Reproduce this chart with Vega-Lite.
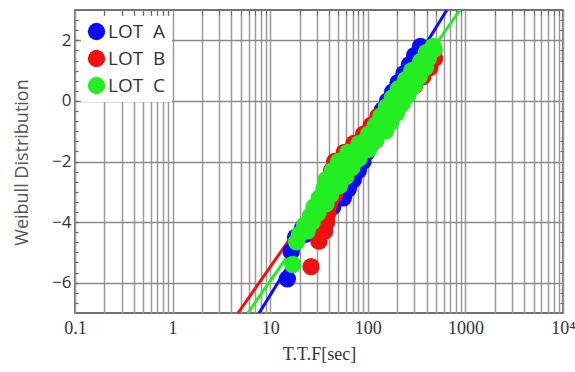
{
  "$schema": "https://vega.github.io/schema/vega-lite/v6.json",
  "width": 488,
  "height": 303,
  "autosize": {"type": "none"},
  "padding": {"left": 75, "top": 10, "right": 12, "bottom": 59},
  "background": "white",
  "config": {
    "view": {"stroke": "#444", "strokeWidth": 1.5},
    "axis": {"domain": false}
  },
  "datasets": {
    "fit": [
      {"lot": "LOT A", "t": 7.7, "y": -7},
      {"lot": "LOT A", "t": 646, "y": 3},
      {"lot": "LOT B", "t": 4.68, "y": -7},
      {"lot": "LOT B", "t": 330, "y": 1.5},
      {"lot": "LOT C", "t": 5.9, "y": -7},
      {"lot": "LOT C", "t": 881, "y": 3}
    ],
    "pts": [
      {"lot":"LOT A","t":15.0,"y":-5.87},{"lot":"LOT A","t":16.4,"y":-4.97},
      {"lot":"LOT A","t":18.2,"y":-4.5},{"lot":"LOT A","t":23.1,"y":-4.4},{"lot":"LOT A","t":22.3,"y":-4.3},{"lot":"LOT A","t":21.5,"y":-4.2},
      {"lot":"LOT A","t":27.3,"y":-4.1},{"lot":"LOT A","t":26.3,"y":-4.0},{"lot":"LOT A","t":26.1,"y":-3.9},{"lot":"LOT A","t":34.0,"y":-3.8},
      {"lot":"LOT A","t":33.7,"y":-3.7},{"lot":"LOT A","t":33.4,"y":-3.6},{"lot":"LOT A","t":43.7,"y":-3.5},{"lot":"LOT A","t":43.0,"y":-3.4},
      {"lot":"LOT A","t":41.4,"y":-3.3},{"lot":"LOT A","t":56.2,"y":-3.2},{"lot":"LOT A","t":52.1,"y":-3.1},{"lot":"LOT A","t":48.3,"y":-3.0},
      {"lot":"LOT A","t":63.2,"y":-2.9},{"lot":"LOT A","t":58.6,"y":-2.8},{"lot":"LOT A","t":54.3,"y":-2.7},{"lot":"LOT A","t":71.1,"y":-2.6},
      {"lot":"LOT A","t":65.9,"y":-2.5},{"lot":"LOT A","t":61.1,"y":-2.4},{"lot":"LOT A","t":80.0,"y":-2.3},{"lot":"LOT A","t":74.1,"y":-2.2},
      {"lot":"LOT A","t":68.5,"y":-2.1},{"lot":"LOT A","t":89.3,"y":-2.0},{"lot":"LOT A","t":82.6,"y":-1.9},{"lot":"LOT A","t":76.4,"y":-1.8},
      {"lot":"LOT A","t":97.5,"y":-1.7},{"lot":"LOT A","t":92.0,"y":-1.6},{"lot":"LOT A","t":87.1,"y":-1.5},{"lot":"LOT A","t":109.1,"y":-1.4},
      {"lot":"LOT A","t":103.8,"y":-1.3},{"lot":"LOT A","t":98.6,"y":-1.2},{"lot":"LOT A","t":123.6,"y":-1.1},{"lot":"LOT A","t":117.5,"y":-1.0},
      {"lot":"LOT A","t":111.9,"y":-0.9},{"lot":"LOT A","t":140.3,"y":-0.8},{"lot":"LOT A","t":133.7,"y":-0.7},{"lot":"LOT A","t":127.1,"y":-0.6},
      {"lot":"LOT A","t":159.6,"y":-0.5},{"lot":"LOT A","t":151.7,"y":-0.4},{"lot":"LOT A","t":141.3,"y":-0.3},{"lot":"LOT A","t":177.0,"y":-0.2},
      {"lot":"LOT A","t":167.9,"y":-0.1},{"lot":"LOT A","t":159.6,"y":0.0},{"lot":"LOT A","t":199.5,"y":0.1},{"lot":"LOT A","t":189.7,"y":0.2},
      {"lot":"LOT A","t":179.9,"y":0.3},{"lot":"LOT A","t":225.4,"y":0.4},{"lot":"LOT A","t":213.8,"y":0.5},{"lot":"LOT A","t":204.2,"y":0.6},
      {"lot":"LOT A","t":257.0,"y":0.7},{"lot":"LOT A","t":245.5,"y":0.8},{"lot":"LOT A","t":234.4,"y":0.9},{"lot":"LOT A","t":295.1,"y":1.0},
      {"lot":"LOT A","t":280.5,"y":1.1},{"lot":"LOT A","t":266.7,"y":1.2},{"lot":"LOT A","t":334.2,"y":1.3},{"lot":"LOT A","t":317.7,"y":1.4},
      {"lot":"LOT A","t":302.0,"y":1.5},{"lot":"LOT A","t":380.2,"y":1.6},{"lot":"LOT A","t":363.1,"y":1.7},{"lot":"LOT A","t":346.7,"y":1.8},

      {"lot":"LOT B","t":26.2,"y":-5.47},{"lot":"LOT B","t":31.6,"y":-4.63},
      {"lot":"LOT B","t":30.9,"y":-4.4},{"lot":"LOT B","t":36.1,"y":-4.3},{"lot":"LOT B","t":34.3,"y":-4.2},{"lot":"LOT B","t":32.6,"y":-4.1},
      {"lot":"LOT B","t":38.0,"y":-4.0},{"lot":"LOT B","t":35.8,"y":-3.9},{"lot":"LOT B","t":33.7,"y":-3.8},{"lot":"LOT B","t":39.1,"y":-3.7},
      {"lot":"LOT B","t":36.8,"y":-3.6},{"lot":"LOT B","t":34.7,"y":-3.5},{"lot":"LOT B","t":40.6,"y":-3.4},{"lot":"LOT B","t":38.5,"y":-3.3},
      {"lot":"LOT B","t":34.2,"y":-3.2},{"lot":"LOT B","t":45.9,"y":-3.1},{"lot":"LOT B","t":40.7,"y":-3.0},{"lot":"LOT B","t":36.4,"y":-2.9},
      {"lot":"LOT B","t":49.2,"y":-2.8},{"lot":"LOT B","t":44.0,"y":-2.7},{"lot":"LOT B","t":39.3,"y":-2.6},{"lot":"LOT B","t":53.1,"y":-2.5},
      {"lot":"LOT B","t":47.4,"y":-2.4},{"lot":"LOT B","t":42.4,"y":-2.3},{"lot":"LOT B","t":57.3,"y":-2.2},{"lot":"LOT B","t":51.2,"y":-2.1},
      {"lot":"LOT B","t":45.7,"y":-2.0},{"lot":"LOT B","t":65.0,"y":-1.9},{"lot":"LOT B","t":61.1,"y":-1.8},{"lot":"LOT B","t":57.4,"y":-1.7},
      {"lot":"LOT B","t":81.7,"y":-1.6},{"lot":"LOT B","t":76.7,"y":-1.5},{"lot":"LOT B","t":72.1,"y":-1.4},{"lot":"LOT B","t":102.6,"y":-1.3},
      {"lot":"LOT B","t":96.4,"y":-1.2},{"lot":"LOT B","t":90.6,"y":-1.1},{"lot":"LOT B","t":128.8,"y":-1.0},{"lot":"LOT B","t":118.3,"y":-0.9},
      {"lot":"LOT B","t":108.6,"y":-0.8},{"lot":"LOT B","t":151.1,"y":-0.7},{"lot":"LOT B","t":138.7,"y":-0.6},{"lot":"LOT B","t":127.4,"y":-0.5},
      {"lot":"LOT B","t":169.0,"y":-0.4},{"lot":"LOT B","t":162.6,"y":-0.3},{"lot":"LOT B","t":156.3,"y":-0.2},{"lot":"LOT B","t":198.2,"y":-0.1},
      {"lot":"LOT B","t":190.5,"y":0.0},{"lot":"LOT B","t":187.1,"y":0.1},{"lot":"LOT B","t":242.1,"y":0.2},{"lot":"LOT B","t":237.7,"y":0.3},
      {"lot":"LOT B","t":233.3,"y":0.4},{"lot":"LOT B","t":302.0,"y":0.5},{"lot":"LOT B","t":293.8,"y":0.6},{"lot":"LOT B","t":285.8,"y":0.7},
      {"lot":"LOT B","t":366.4,"y":0.8},{"lot":"LOT B","t":356.5,"y":0.9},{"lot":"LOT B","t":346.7,"y":1.0},{"lot":"LOT B","t":432.5,"y":1.1},
      {"lot":"LOT B","t":409.3,"y":1.2},{"lot":"LOT B","t":387.3,"y":1.3},{"lot":"LOT B","t":483.1,"y":1.4},{"lot":"LOT B","t":457.1,"y":1.5},
      {"lot":"LOT B","t":467.7,"y":1.6},

      {"lot":"LOT C","t":17.0,"y":-5.4},{"lot":"LOT C","t":18.6,"y":-4.65},
      {"lot":"LOT C","t":20.0,"y":-4.4},{"lot":"LOT C","t":23.9,"y":-4.3},{"lot":"LOT C","t":23.2,"y":-4.2},{"lot":"LOT C","t":22.5,"y":-4.1},
      {"lot":"LOT C","t":26.9,"y":-4.0},{"lot":"LOT C","t":26.3,"y":-3.9},{"lot":"LOT C","t":25.7,"y":-3.8},{"lot":"LOT C","t":30.9,"y":-3.7},
      {"lot":"LOT C","t":30.2,"y":-3.6},{"lot":"LOT C","t":28.2,"y":-3.5},{"lot":"LOT C","t":37.2,"y":-3.4},{"lot":"LOT C","t":34.4,"y":-3.3},
      {"lot":"LOT C","t":31.8,"y":-3.2},{"lot":"LOT C","t":41.6,"y":-3.1},{"lot":"LOT C","t":38.5,"y":-3.0},{"lot":"LOT C","t":35.6,"y":-2.9},
      {"lot":"LOT C","t":51.4,"y":-2.8},{"lot":"LOT C","t":43.9,"y":-2.7},{"lot":"LOT C","t":37.4,"y":-2.6},{"lot":"LOT C","t":59.6,"y":-2.5},
      {"lot":"LOT C","t":50.7,"y":-2.4},{"lot":"LOT C","t":43.3,"y":-2.3},{"lot":"LOT C","t":68.9,"y":-2.2},{"lot":"LOT C","t":58.7,"y":-2.1},
      {"lot":"LOT C","t":50.1,"y":-2.0},{"lot":"LOT C","t":81.7,"y":-1.9},{"lot":"LOT C","t":71.4,"y":-1.8},{"lot":"LOT C","t":62.5,"y":-1.7},
      {"lot":"LOT C","t":101.9,"y":-1.6},{"lot":"LOT C","t":89.1,"y":-1.5},{"lot":"LOT C","t":81.7,"y":-1.4},{"lot":"LOT C","t":121.3,"y":-1.3},
      {"lot":"LOT C","t":111.2,"y":-1.2},{"lot":"LOT C","t":101.9,"y":-1.1},{"lot":"LOT C","t":151.4,"y":-1.0},{"lot":"LOT C","t":134.6,"y":-0.9},
      {"lot":"LOT C","t":119.7,"y":-0.8},{"lot":"LOT C","t":172.6,"y":-0.7},{"lot":"LOT C","t":153.5,"y":-0.6},{"lot":"LOT C","t":136.5,"y":-0.5},
      {"lot":"LOT C","t":196.8,"y":-0.4},{"lot":"LOT C","t":175.0,"y":-0.3},{"lot":"LOT C","t":155.6,"y":-0.2},{"lot":"LOT C","t":224.4,"y":-0.1},
      {"lot":"LOT C","t":199.5,"y":0.0},{"lot":"LOT C","t":178.2,"y":0.1},{"lot":"LOT C","t":258.2,"y":0.2},{"lot":"LOT C","t":230.7,"y":0.3},
      {"lot":"LOT C","t":206.1,"y":0.4},{"lot":"LOT C","t":298.5,"y":0.5},{"lot":"LOT C","t":266.7,"y":0.6},{"lot":"LOT C","t":243.8,"y":0.7},
      {"lot":"LOT C","t":337.3,"y":0.8},{"lot":"LOT C","t":308.3,"y":0.9},{"lot":"LOT C","t":281.8,"y":1.0},{"lot":"LOT C","t":389.0,"y":1.1},
      {"lot":"LOT C","t":354.8,"y":1.2},{"lot":"LOT C","t":346.7,"y":1.3},{"lot":"LOT C","t":416.9,"y":1.4},{"lot":"LOT C","t":407.4,"y":1.5},
      {"lot":"LOT C","t":398.1,"y":1.6},{"lot":"LOT C","t":478.6,"y":1.7},{"lot":"LOT C","t":467.7,"y":1.8}
    ]
  },
  "resolve": {
    "axis": {"x": "independent", "y": "independent"},
    "legend": {"color": "independent"}
  },
  "layer": [
    {
      "data": {"name": "fit"},
      "mark": {"type": "line", "strokeWidth": 3, "clip": true},
      "encoding": {
        "x": {
          "field": "t", "type": "quantitative",
          "scale": {"type": "log", "domain": [0.1, 10000], "nice": false},
          "axis": {
            "orient": "top", "title": null, "labels": false, "grid": false,
            "domain": false, "ticks": true, "tickSize": -5, "tickColor": "#666", "tickWidth": 1,
            "tickCount": 1000,
            "values": [0.2,0.3,0.4,0.5,0.6,0.7,0.8,0.9,2,3,4,5,6,7,8,9,20,30,40,50,60,70,80,90,200,300,400,500,600,700,800,900,2000,3000,4000,5000,6000,7000,8000,9000]
          }
        },
        "y": {
          "field": "y", "type": "quantitative",
          "scale": {"domain": [-7, 3], "nice": false, "zero": false},
          "axis": {
            "orient": "right", "title": null, "labels": false, "grid": false,
            "domain": false, "ticks": true, "tickSize": -3, "tickColor": "#666", "tickWidth": 1.2,
            "tickCount": 1000,
            "values": [-6.6667,-6.3333,-5.6667,-5.3333,-4.6667,-4.3333,-3.6667,-3.3333,-2.6667,-2.3333,-1.6667,-1.3333,-0.6667,-0.3333,0.3333,0.6667,1.3333,1.6667,2.3333,2.6667]
          }
        },
        "color": {
          "field": "lot", "type": "nominal",
          "scale": {"domain": ["LOT A", "LOT B", "LOT C"], "range": ["#0a0aff", "#f01010", "#22ee22"]},
          "legend": null
        },
        "detail": {"field": "lot"}
      }
    },
    {
      "data": {"name": "pts"},
      "mark": {"type": "point", "filled": true, "opacity": 1, "size": 300, "shape": "circle", "clip": true},
      "encoding": {
        "x": {
          "field": "t", "type": "quantitative",
          "scale": {"type": "log", "domain": [0.1, 10000], "nice": false},
          "axis": {
            "orient": "bottom",
            "title": "T.T.F[sec]",
            "titleFont": "Liberation Serif", "titleFontSize": 18, "titleFontWeight": "normal", "titleColor": "#333",
            "titleX": 244, "titleY": 41, "titleBaseline": "middle", "titleAlign": "center",
            "tickCount": 1000,
            "values": [0.1,0.2,0.3,0.4,0.5,0.6,0.7,0.8,0.9,1,2,3,4,5,6,7,8,9,10,20,30,40,50,60,70,80,90,100,200,300,400,500,600,700,800,900,1000,2000,3000,4000,5000,6000,7000,8000,9000,10000],
            "labelExpr": "datum.value == 0.1 ? '0.1' : datum.value == 1 ? '1' : datum.value == 10 ? '10' : datum.value == 100 ? '100' : datum.value == 1000 ? '1000' : datum.value == 10000 ? '10⁴' : ''",
            "labelFont": "Liberation Serif", "labelFontSize": 18, "labelColor": "#333",
            "labelPadding": 6, "labelFlush": false, "labelBound": false, "labelOverlap": false,
            "ticks": false, "domain": false,
            "grid": true, "gridColor": "#9a9a9a", "gridWidth": 1.5
          }
        },
        "y": {
          "field": "y", "type": "quantitative",
          "scale": {"domain": [-7, 3], "nice": false, "zero": false},
          "axis": {
            "orient": "left",
            "title": "Weibull Distribution",
            "titleFont": "Open Sans", "titleFontSize": 18, "titleFontWeight": "normal", "titleColor": "#555",
            "titleX": -53, "titleY": 152, "titleAngle": -90, "titleBaseline": "middle", "titleAlign": "center",
            "tickCount": 1000,
            "values": [-6.6667,-6.3333,-6,-5.6667,-5.3333,-5,-4.6667,-4.3333,-4,-3.6667,-3.3333,-3,-2.6667,-2.3333,-2,-1.6667,-1.3333,-1,-0.6667,-0.3333,0,0.3333,0.6667,1,1.3333,1.6667,2,2.3333,2.6667],
            "labelExpr": "datum.value % 2 === 0 ? format(datum.value, 'd') : ''",
            "labelFont": "Open Sans", "labelFontSize": 17, "labelColor": "#333",
            "labelPadding": 7, "labelOverlap": false, "labelBound": false, "labelFlush": false,
            "ticks": true, "tickSize": -3, "tickColor": "#666", "tickWidth": 1.2,
            "domain": false,
            "grid": true, "gridColor": "#8a8a8a", "gridWidth": 1.5,
            "gridOpacity": {"condition": {"test": "datum.value % 2 === 0", "value": 1}, "value": 0}
          }
        },
        "color": {
          "field": "lot", "type": "nominal",
          "scale": {"domain": ["LOT A", "LOT B", "LOT C"], "range": ["#0a0aff", "#f01010", "#22ee22"]},
          "legend": {
            "orient": "none", "legendX": 6, "legendY": 6, "padding": 6,
            "fillColor": "white", "title": null,
            "symbolType": "circle", "symbolSize": 300, "symbolStrokeWidth": 0, "symbolOpacity": 1,
            "labelFont": "Open Sans", "labelFontSize": 19, "labelColor": "#333", "labelOffset": 2,
            "rowPadding": 7,
            "labelExpr": "replace(datum.label, ' ', '\u00a0\u00a0')"
          }
        }
      }
    }
  ]
}
